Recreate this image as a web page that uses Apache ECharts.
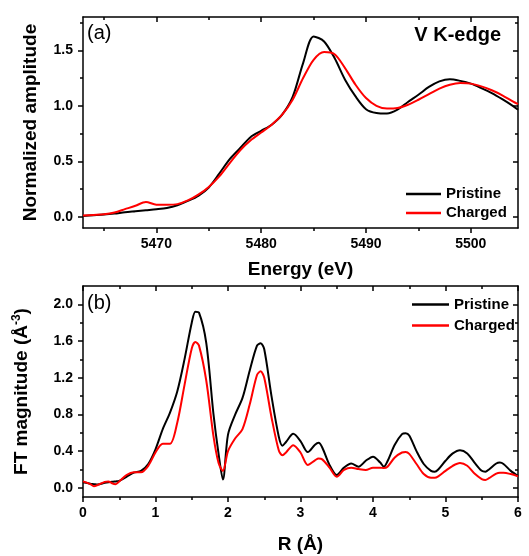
<!DOCTYPE html>
<html>
<head>
<meta charset="utf-8">
<script src="https://cdn.jsdelivr.net/npm/echarts@6/dist/echarts.min.js"></script>
<style>
  html, body { margin: 0; padding: 0; background: #fff; }
  #chart { width: 529px; height: 556px; }
</style>
</head>
<body>
<div id="chart"></div>
<script>
// (a) XANES, V K-edge
var energy = [5463, 5464, 5465, 5466, 5467, 5468, 5469, 5470, 5471, 5472, 5473, 5474, 5475, 5476, 5477, 5478, 5479, 5480, 5481, 5482, 5483,
  5484, 5485, 5486, 5487, 5488, 5489, 5490, 5491, 5492, 5493, 5494, 5495, 5496, 5497, 5498, 5499, 5500, 5501, 5502, 5503, 5504, 5504.5]
var pristineA = [0.009, 0.015, 0.021, 0.03, 0.042, 0.051, 0.06, 0.069, 0.081, 0.105, 0.144, 0.19, 0.265, 0.39, 0.52, 0.62, 0.72, 0.775, 0.83, 0.92, 1.08,
  1.385, 1.625, 1.58, 1.43, 1.235, 1.085, 0.97, 0.935, 0.93, 0.965, 1.035, 1.10, 1.17, 1.22, 1.24, 1.225, 1.20, 1.16, 1.115, 1.06, 1.00, 0.965]
var chargedA = [0.012, 0.018, 0.024, 0.04, 0.07, 0.10, 0.135, 0.11, 0.11, 0.115, 0.148, 0.20, 0.27, 0.365, 0.485, 0.60, 0.69, 0.76, 0.83, 0.92, 1.055,
  1.25, 1.415, 1.485, 1.465, 1.34, 1.19, 1.07, 1.0, 0.975, 0.98, 1.01, 1.055, 1.105, 1.155, 1.19, 1.205, 1.2, 1.175, 1.14, 1.095, 1.04, 1.015]

// (b) Fourier transform
var rDist = [0, 0.1, 0.15, 0.2, 0.3, 0.35, 0.4, 0.45, 0.5, 0.6, 0.7, 0.8, 0.9, 1.0, 1.1, 1.2, 1.3, 1.4, 1.5, 1.55, 1.6, 1.7, 1.8, 1.87, 1.93,
  2.0, 2.1, 2.2, 2.3, 2.4, 2.45, 2.5, 2.6, 2.7, 2.75, 2.8, 2.9, 3.0, 3.1, 3.2, 3.25, 3.3, 3.4, 3.5, 3.6, 3.7, 3.8, 3.9,
  4.0, 4.1, 4.15, 4.2, 4.3, 4.4, 4.45, 4.5, 4.6, 4.7, 4.8, 4.85, 4.9, 5.0, 5.1, 5.2, 5.3, 5.4, 5.5, 5.55, 5.6, 5.7, 5.75, 5.8, 5.9, 6.0]
var pristineB = [0.06, 0.045, 0.04, 0.035, 0.055, 0.062, 0.065, 0.07, 0.075, 0.12, 0.165, 0.185, 0.26, 0.42, 0.64, 0.82, 1.05, 1.40, 1.80, 1.92, 1.91, 1.58, 0.80, 0.37, 0.09,
  0.58, 0.80, 0.98, 1.28, 1.55, 1.575, 1.51, 1.0, 0.56, 0.46, 0.5, 0.59, 0.51, 0.39, 0.47, 0.49, 0.44, 0.25, 0.14, 0.22, 0.265, 0.23, 0.295,
  0.34, 0.275, 0.23, 0.29, 0.47, 0.585, 0.595, 0.57, 0.40, 0.26, 0.185, 0.175, 0.20, 0.295, 0.375, 0.41, 0.375, 0.275, 0.185, 0.175, 0.2, 0.265, 0.275, 0.26, 0.185, 0.13]
var chargedB = [0.07, 0.04, 0.018, 0.03, 0.065, 0.07, 0.05, 0.04, 0.07, 0.14, 0.17, 0.17, 0.24, 0.385, 0.48, 0.48, 0.71, 1.12, 1.52, 1.59, 1.55, 1.17, 0.56, 0.27, 0.185,
  0.40, 0.54, 0.64, 0.91, 1.23, 1.27, 1.2, 0.77, 0.41, 0.355, 0.385, 0.465, 0.385, 0.25, 0.30, 0.32, 0.31, 0.22, 0.12, 0.195, 0.22, 0.205, 0.195,
  0.22, 0.22, 0.215, 0.23, 0.33, 0.385, 0.39, 0.37, 0.26, 0.15, 0.11, 0.11, 0.125, 0.185, 0.24, 0.27, 0.24, 0.155, 0.095, 0.085, 0.105, 0.155, 0.165, 0.165, 0.15, 0.125]

var ticksAX = [5470, 5480, 5490, 5500]
var minorAX = [5465, 5475, 5485, 5495]
var ticksAY = [0, 0.5, 1.0, 1.5]
var minorAY = [0.25, 0.75, 1.25, 1.75]
var ticksBX = [0, 1, 2, 3, 4, 5, 6]
var minorBX = [0.5, 1.5, 2.5, 3.5, 4.5, 5.5]
var ticksBY = [0, 0.4, 0.8, 1.2, 1.6, 2.0]
var minorBY = [0.2, 0.6, 1.0, 1.4, 1.8]

var FONT = 'Arial, "Liberation Sans", sans-serif'
var BLACK = '#000'
var RED = '#ff0000'

function pairs(xs, ys) {
  return xs.map(function(x, i) { return [x, ys[i]] })
}

// four axes per side: labelled main, minor ticks, mirrored main, mirrored minor
function boxAxes(gi, pos, mirror, min, max, majors, minors, fmt, name, nameGap, nameStyle) {
  var line = { color: BLACK, width: 1.5 }
  var base = { type: 'value', gridIndex: gi, min: min, max: max, splitLine: { show: false }, axisLine: { show: false, onZero: false, lineStyle: line } }
  var main = Object.assign({}, base, {
    position: pos,
    axisLine: { show: true, onZero: false, lineStyle: line },
    axisTick: { show: true, inside: false, length: 5, customValues: majors, lineStyle: line },
    axisLabel: { show: true, customValues: majors, formatter: fmt, margin: pos === 'left' ? 10 : 9, color: BLACK, fontSize: 14, fontWeight: 'bold', fontFamily: FONT },
    name: name,
    nameLocation: 'middle',
    nameGap: nameGap,
    nameTextStyle: nameStyle
  })
  var minor = Object.assign({}, base, {
    position: pos,
    axisTick: { show: true, inside: false, length: 3, customValues: minors, lineStyle: line },
    axisLabel: { show: false }
  })
  var top = Object.assign({}, base, {
    position: mirror,
    axisLine: { show: true, onZero: false, lineStyle: line },
    axisTick: { show: true, inside: true, length: 5, customValues: majors, lineStyle: line },
    axisLabel: { show: false }
  })
  var topMinor = Object.assign({}, base, {
    position: mirror,
    axisTick: { show: true, inside: true, length: 3, customValues: minors, lineStyle: line },
    axisLabel: { show: false }
  })
  return [main, minor, top, topMinor]
}

var fmt1 = function(v) { return v.toFixed(1) }
var fmt0 = function(v) { return String(v) }
var titleStyle = { color: BLACK, fontSize: 19, fontWeight: 'bold', fontFamily: FONT }
var ftStyle = {
  color: BLACK,
  fontFamily: FONT,
  rich: {
    a: { fontSize: 19, fontWeight: 'bold', fontFamily: FONT, color: BLACK, lineHeight: 22 },
    s: { fontSize: 12, fontWeight: 'bold', fontFamily: FONT, color: BLACK, verticalAlign: 'top', lineHeight: 22 }
  }
}

var xAxes = boxAxes(0, 'bottom', 'top', 5463, 5504.5, ticksAX, minorAX, fmt0, 'Energy (eV)', 32, titleStyle)
  .concat(boxAxes(1, 'bottom', 'top', 0, 6, ticksBX, minorBX, fmt0, 'R (Å)', 38, titleStyle))
var yAxes = boxAxes(0, 'left', 'right', -0.1, 1.8, ticksAY, minorAY, fmt1, 'Normalized amplitude', 43, titleStyle)
  .concat(boxAxes(1, 'left', 'right', -0.1, 2.2, ticksBY, minorBY, fmt1, '{a|FT magnitude (Å}{s|-3}{a|)}', 50, ftStyle))

function lineSeries(name, color, xi, yi, data) {
  return {
    type: 'line',
    name: name,
    xAxisIndex: xi,
    yAxisIndex: yi,
    showSymbol: false,
    symbol: 'none',
    smooth: 0.3,
    data: data,
    lineStyle: { color: color, width: 2 },
    itemStyle: { color: color },
    z: name === 'Pristine' ? 3 : 4
  }
}

var legendText = { color: BLACK, fontSize: 15, fontWeight: 'bold', fontFamily: FONT, overflow: 'none' }

var option = {
  animation: false,
  backgroundColor: '#fff',
  grid: [
    { left: 83, top: 17, right: 11, height: 211 },
    { left: 83, top: 286, right: 11, height: 211 }
  ],
  xAxis: xAxes,
  yAxis: yAxes,
  legend: [
    { data: ['Pristine', 'Charged'], orient: 'vertical', left: 406, top: 186.5, width: 120, padding: 0, icon: 'rect', itemWidth: 35, itemHeight: 2.5, itemGap: 4, textStyle: legendText },
    { data: ['Pristine', 'Charged'], orient: 'vertical', left: 412, top: 297, width: 115, padding: 0, icon: 'rect', itemWidth: 37, itemHeight: 2.5, itemGap: 6, textStyle: legendText }
  ],
  graphic: [
    { type: 'text', left: 87, top: 23, style: { text: '(a)', fontSize: 20, fontFamily: FONT, fill: BLACK } },
    { type: 'text', right: 28, top: 25, style: { text: 'V K-edge', fontSize: 20, fontWeight: 'bold', fontFamily: FONT, fill: BLACK } },
    { type: 'text', left: 87, top: 293, style: { text: '(b)', fontSize: 20, fontFamily: FONT, fill: BLACK } }
  ],
  series: [
    lineSeries('Pristine', BLACK, 0, 0, pairs(energy, pristineA)),
    lineSeries('Charged', RED, 0, 0, pairs(energy, chargedA)),
    lineSeries('Pristine', BLACK, 4, 4, pairs(rDist, pristineB)),
    lineSeries('Charged', RED, 4, 4, pairs(rDist, chargedB))
  ]
}

var chart = echarts.init(document.getElementById('chart'), null, { renderer: 'canvas' })
chart.setOption(option)
</script>
</body>
</html>
